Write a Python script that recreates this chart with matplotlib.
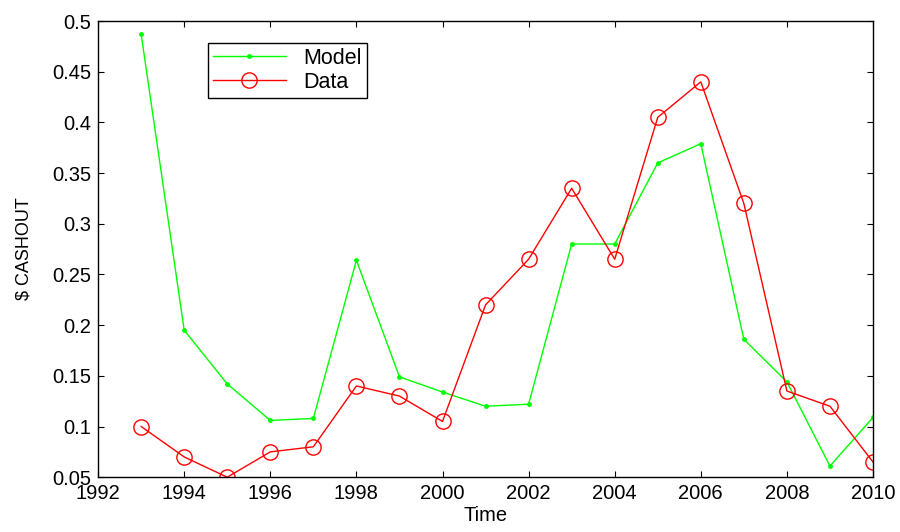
import matplotlib
matplotlib.use("Agg")
import matplotlib.pyplot as plt

years = list(range(1993, 2011))
model = [0.487, 0.195, 0.142, 0.106, 0.108, 0.264, 0.149, 0.134, 0.120, 0.122,
         0.280, 0.280, 0.360, 0.379, 0.186, 0.144, 0.061, 0.109]
data = [0.100, 0.070, 0.050, 0.075, 0.080, 0.140, 0.130, 0.105, 0.220, 0.265,
        0.335, 0.265, 0.405, 0.440, 0.320, 0.135, 0.120, 0.065]
xticks = list(range(1992, 2011, 2))
yticks = [0.05, 0.1, 0.15, 0.2, 0.25, 0.3, 0.35, 0.4, 0.45, 0.5]
ytick_labels = ["0.05", "0.1", "0.15", "0.2", "0.25", "0.3", "0.35", "0.4", "0.45", "0.5"]

plt.rcParams['font.family'] = ['Liberation Sans', 'DejaVu Sans']

fig = plt.figure(figsize=(9, 5.32), dpi=100)
ax = fig.add_axes([0.109, 0.103, 0.861, 0.8575])

ax.plot(years, model, color=(0, 1, 0), marker='.', markersize=5, linewidth=1, label='Model')
ax.plot(years, data, color=(1, 0, 0), marker='o', markersize=11, markerfacecolor='none',
        markeredgewidth=1, linewidth=1, label='Data')

ax.set_xlim(1992, 2010)
ax.set_ylim(0.05, 0.5)
ax.set_xticks(xticks)
ax.set_xticklabels([str(t) for t in xticks])
ax.set_yticks(yticks)
ax.set_yticklabels(ytick_labels)
ax.tick_params(direction='in', top=True, right=True, labelsize=14.5, length=4, pad=5)
for s in ax.spines.values():
    s.set_linewidth(1)

ax.set_xlabel('Time', fontsize=14.5)
ax.xaxis.set_label_coords(0.5, -0.064)
ax.set_ylabel(r'\$ CASHOUT', fontsize=13)
ax.yaxis.set_label_coords(-0.085, 0.5)

leg = ax.legend(loc='upper left', bbox_to_anchor=(0.142, 0.952), fontsize=15.5,
                frameon=True, fancybox=False, edgecolor='black', framealpha=1,
                handlelength=3.4, borderpad=0.22, labelspacing=0.15, handletextpad=0.8,
                borderaxespad=0)
leg.get_frame().set_linewidth(1)

fig.savefig('out.png', dpi=100)
